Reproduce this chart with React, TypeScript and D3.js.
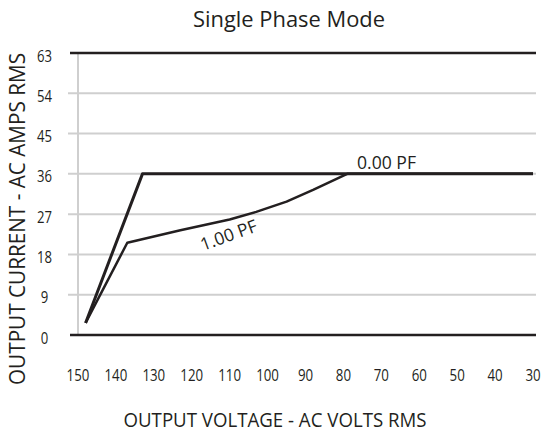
import React from 'react';
import * as d3 from 'd3';

const ampTicks = [0, 9, 18, 27, 36, 45, 54, 63];
const voltTicks = [150, 140, 130, 120, 110, 100, 90, 80, 70, 60, 50, 40, 30];

// 0.00 PF curve
const voltsPF0 = [148, 133, 30];
const ampsPF0 = [2.7, 36, 36];

// 1.00 PF curve
const voltsPF1 = [148, 137, 123, 110, 103, 95, 88, 79, 30];
const ampsPF1 = [2.7, 20.6, 23.4, 25.8, 27.5, 29.8, 32.4, 36, 36];

const ink = '#231f20';
const font = '"Open Sans", "Noto Sans", sans-serif';

export default function App() {
    const width = 542, height = 434;
    const x = d3.scaleLinear().domain([150, 30]).range([78, 533]);
    const y = d3.scaleLinear().domain([0, 63]).range([335, 53]);
    const left = 70, right = 536;

    const line = d3.line<[number, number]>()
        .x(d => x(d[0]))
        .y(d => y(d[1]))
        .curve(d3.curveLinear);

    const pf0 = voltsPF0.map((v, i) => [v, ampsPF0[i]] as [number, number]);
    const pf1 = voltsPF1.map((v, i) => [v, ampsPF1[i]] as [number, number]);

    return (
        <svg width={width} height={height} style={{ position: 'absolute', left: 0, top: 0, background: '#fff' }}
            fontFamily={font}>
            <text x={289} y={27} textAnchor="middle" fontSize={22} fill={ink}
                textLength={192} lengthAdjust="spacingAndGlyphs">Single Phase Mode</text>

            {/* grid */}
            {ampTicks.filter(t => t > 0 && t < 63).map(t => (
                <line key={t} x1={left - 2} x2={right} y1={y(t)} y2={y(t)} stroke="#cfcfcf" strokeWidth={2} />
            ))}
            <line x1={x(150)} x2={x(150)} y1={y(63)} y2={y(0)} stroke="#cfcfcf" strokeWidth={2} />
            <line x1={left} x2={right} y1={y(63)} y2={y(63)} stroke={ink} strokeWidth={2.5} />
            <line x1={left} x2={right} y1={y(0)} y2={y(0)} stroke={ink} strokeWidth={2.5} />

            {/* y ticks */}
            {ampTicks.map(t => (
                <text key={t} x={44.5} y={y(t) + 8.5} textAnchor="middle" fontSize={16} fill={ink}
                    textLength={String(t).length * 7.5} lengthAdjust="spacingAndGlyphs">{t}</text>
            ))}
            {/* x ticks */}
            {voltTicks.map(t => (
                <text key={t} x={x(t)} y={381} textAnchor="middle" fontSize={15.5} fill={ink}
                    textLength={String(t).length * 7.6} lengthAdjust="spacingAndGlyphs">{t}</text>
            ))}

            <path d={line(pf1) ?? ''} fill="none" stroke={ink} strokeWidth={2.5} strokeLinejoin="round" />
            <path d={line(pf0) ?? ''} fill="none" stroke={ink} strokeWidth={3} strokeLinejoin="round" />

            <text x={357} y={169} fontSize={17.5} fill={ink} textLength={59} lengthAdjust="spacingAndGlyphs">0.00 PF</text>
            <text x={0} y={0} fontSize={17.5} fill={ink} textLength={59} lengthAdjust="spacingAndGlyphs"
                transform={`translate(203,251) rotate(-20)`}>1.00 PF</text>

            <text transform={`translate(25,219) rotate(-90)`} textAnchor="middle" fontSize={22} fill={ink}
                textLength={332} lengthAdjust="spacingAndGlyphs">OUTPUT CURRENT - AC AMPS RMS</text>
            <text x={275} y={427} textAnchor="middle" fontSize={20.5} fill={ink}
                textLength={303} lengthAdjust="spacingAndGlyphs">OUTPUT VOLTAGE - AC VOLTS RMS</text>
        </svg>
    );
}
